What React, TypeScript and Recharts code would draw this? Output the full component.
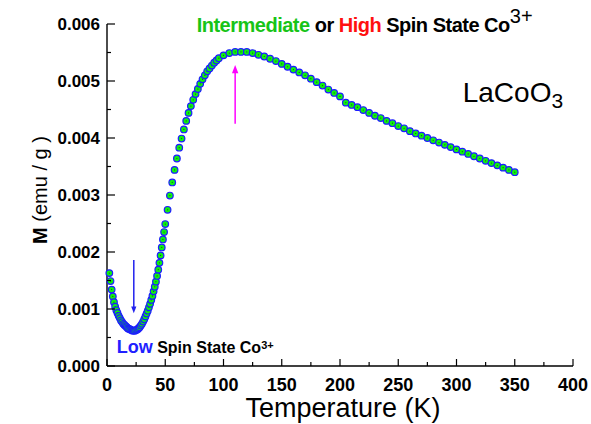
import React from "react";
import {
  ScatterChart,
  Scatter,
  XAxis,
  YAxis,
  ReferenceLine,
} from "recharts";

// temperature grid (K)
const temps: number[] = [
  2, 3, 4, 5, 6, 7, 8, 9, 10, 11, 12, 13, 14, 15, 16, 17, 18, 19, 20, 21, 22, 23, 24, 25,
  26, 27, 28, 29, 30, 31, 32, 33, 34, 35, 36, 37, 38, 39, 40, 41, 42, 43, 44, 45, 46, 47,
  48, 49, 50,
  52, 54, 56, 58, 60, 62, 64, 66, 68, 70, 72, 74, 76, 78, 80, 82, 84, 86, 88, 90, 92, 94, 96,
  100, 105, 110, 115, 120, 125, 130, 135, 140, 145, 150, 155, 160, 165, 170, 175, 180, 185,
  190, 195, 200, 205, 210, 215, 220, 225, 230, 235, 240, 245, 250, 255, 260, 265, 270, 275,
  280, 285, 290, 295, 300, 305, 310, 315, 320, 325, 330, 335, 340, 345, 350,
];

// magnetization (emu/g)
const moments: number[] = [
  0.00163, 0.00149, 0.00134, 0.00122, 0.00112, 0.00104, 0.00098, 0.00093, 0.00088, 0.00084,
  0.0008, 0.00077, 0.00074, 0.00072, 0.0007, 0.00068, 0.00066, 0.00065, 0.00064, 0.00063,
  0.00062, 0.00062, 0.00062, 0.00063, 0.00064, 0.00066, 0.00068, 0.00071, 0.00074, 0.00078,
  0.00082, 0.00087, 0.00092, 0.00097, 0.00103, 0.00109, 0.00116, 0.00123, 0.00131, 0.00139,
  0.00148, 0.00158, 0.00169, 0.00181, 0.00194, 0.00208, 0.00222, 0.00235, 0.00249,
  0.00274, 0.00299, 0.00322, 0.00344, 0.00364, 0.00383, 0.00399, 0.00415, 0.0043, 0.00444,
  0.00456, 0.00467, 0.00477, 0.00486, 0.00495, 0.00503, 0.0051, 0.00517, 0.00522, 0.00527,
  0.00532, 0.00536, 0.0054,
  0.00545, 0.00549, 0.00551, 0.00551, 0.00551, 0.00549, 0.00546, 0.00543, 0.00539, 0.00535,
  0.0053, 0.00525, 0.0052, 0.00515, 0.0051, 0.00504, 0.00498, 0.00492, 0.00485, 0.00479,
  0.00473, 0.00462, 0.00458, 0.00454, 0.00449, 0.00444, 0.00439, 0.00435, 0.0043, 0.00426,
  0.00421, 0.00417, 0.00412, 0.00408, 0.00404, 0.004, 0.00396, 0.00392, 0.00388, 0.00384,
  0.0038, 0.00376, 0.00372, 0.00368, 0.00364, 0.0036, 0.00356, 0.00352, 0.00348, 0.00344,
  0.0034,
];

const xTicks: number[] = [
  0, 25, 50, 75, 100, 125, 150, 175, 200, 225, 250, 275, 300, 325, 350, 375, 400,
];
const yTicks: number[] = [
  0, 0.0005, 0.001, 0.0015, 0.002, 0.0025, 0.003, 0.0035, 0.004, 0.0045, 0.005, 0.0055, 0.006,
];

const points = temps.map((t, i) => ({ T: t, M: moments[i] }));

const FONT = '"Liberation Sans", Arial, sans-serif';

const XTick = (props: any) => {
  const { x, y, payload } = props;
  const major = payload.value % 50 === 0;
  return (
    <g>
      <line x1={x} x2={x} y1={y} y2={y - (major ? 7 : 4)} stroke="#000" strokeWidth={1.2} />
      {major && (
        <text x={x} y={y + 24.5} textAnchor="middle" fontFamily={FONT} fontWeight="bold" fontSize={18} fill="#000">
          {payload.value}
        </text>
      )}
    </g>
  );
};

const YTick = (props: any) => {
  const { x, y, payload } = props;
  const major = Math.round(payload.value * 10000) % 10 === 0;
  return (
    <g>
      <line x1={x} x2={x + (major ? 8 : 4)} y1={y} y2={y} stroke="#000" strokeWidth={1.2} />
      {major && (
        <text x={x - 7} y={y + 6} textAnchor="end" fontFamily={FONT} fontWeight="bold" fontSize={17} fill="#000">
          {payload.value.toFixed(3)}
        </text>
      )}
    </g>
  );
};

const Dot = (props: any) => {
  const { cx, cy } = props;
  return (
    <g>
      <circle cx={cx} cy={cy} r={3.3} fill="#10f010" stroke="#1c1cff" strokeWidth={1.2} />
      <circle cx={cx} cy={cy} r={0.6} fill="#1a5a1a" />
    </g>
  );
};

const arrow = (color: string, head: number) => (props: any) => {
  const { x1, y1, x2, y2 } = props;
  const dir = y2 > y1 ? 1 : -1;
  return (
    <g>
      <line x1={x1} y1={y1} x2={x2} y2={y2 - dir * head * 2} stroke={color} strokeWidth={1.5} />
      <polygon
        points={`${x2},${y2} ${x2 - head},${y2 - dir * head * 2.6} ${x2 + head},${y2 - dir * head * 2.6}`}
        fill={color}
      />
    </g>
  );
};

export default function App() {
  return (
    <div style={{ position: "absolute", left: 0, top: 0, width: 591, height: 424 }}>
      <ScatterChart
        width={591}
        height={424}
        margin={{ top: 24, right: 18, left: 47, bottom: 28 }}
      >
        <XAxis
          type="number"
          dataKey="T"
          domain={[0, 400]}
          ticks={xTicks}
          interval={0}
          tickSize={0}
          tickMargin={0}
          tickLine={false}
          tick={<XTick />}
          height={30}
          axisLine={{ stroke: "#000", strokeWidth: 1.4 }}
        />
        <YAxis
          type="number"
          dataKey="M"
          domain={[0, 0.006]}
          ticks={yTicks}
          interval={0}
          tickSize={0}
          tickMargin={0}
          tickLine={false}
          tick={<YTick />}
          width={60}
          axisLine={{ stroke: "#000", strokeWidth: 1.4 }}
        />
        <ReferenceLine
          segment={[{ x: 23, y: 0.00186 }, { x: 23, y: 0.000925 }]}
          shape={arrow("#2222ee", 2.6)}
        />
        <ReferenceLine
          segment={[{ x: 110, y: 0.00425 }, { x: 110, y: 0.00528 }]}
          shape={arrow("#ff00ff", 3.2)}
        />
        <Scatter data={points} shape={<Dot />} isAnimationActive={false} />
      </ScatterChart>
      <svg
        width={591}
        height={424}
        style={{ position: "absolute", left: 0, top: 0, pointerEvents: "none" }}
        fontFamily={FONT}
      >
        <text x={196.7} y={32.3} fontSize={20} fontWeight="bold" letterSpacing={-0.5}>
          <tspan fill="#17c417">Intermediate</tspan>
          <tspan fill="#000"> or </tspan>
          <tspan fill="#ff1010">High</tspan>
          <tspan fill="#000"> Spin State Co</tspan>
          <tspan fill="#000" fontWeight="normal" dy={-9} letterSpacing={0}>3+</tspan>
        </text>
        <text x={462.7} y={101.7} fontSize={28} fill="#000">
          LaCoO<tspan fontSize={21} dy={6.6}>3</tspan>
        </text>
        <text x={116.7} y={352.7} fontWeight="bold">
          <tspan fill="#2020ff" fontSize={18}>Low</tspan>
          <tspan fill="#000" fontSize={16}> Spin State Co</tspan>
          <tspan fill="#000" fontSize={11} dy={-4}>3+</tspan>
        </text>
        <text x={343} y={417} fontSize={27} textAnchor="middle" fill="#000">
          Temperature (K)
        </text>
        <text transform="translate(46.5,190) rotate(-90)" fontSize={20} textAnchor="middle" fill="#000">
          <tspan fontWeight="bold">M</tspan> (emu / g )
        </text>
      </svg>
    </div>
  );
}
